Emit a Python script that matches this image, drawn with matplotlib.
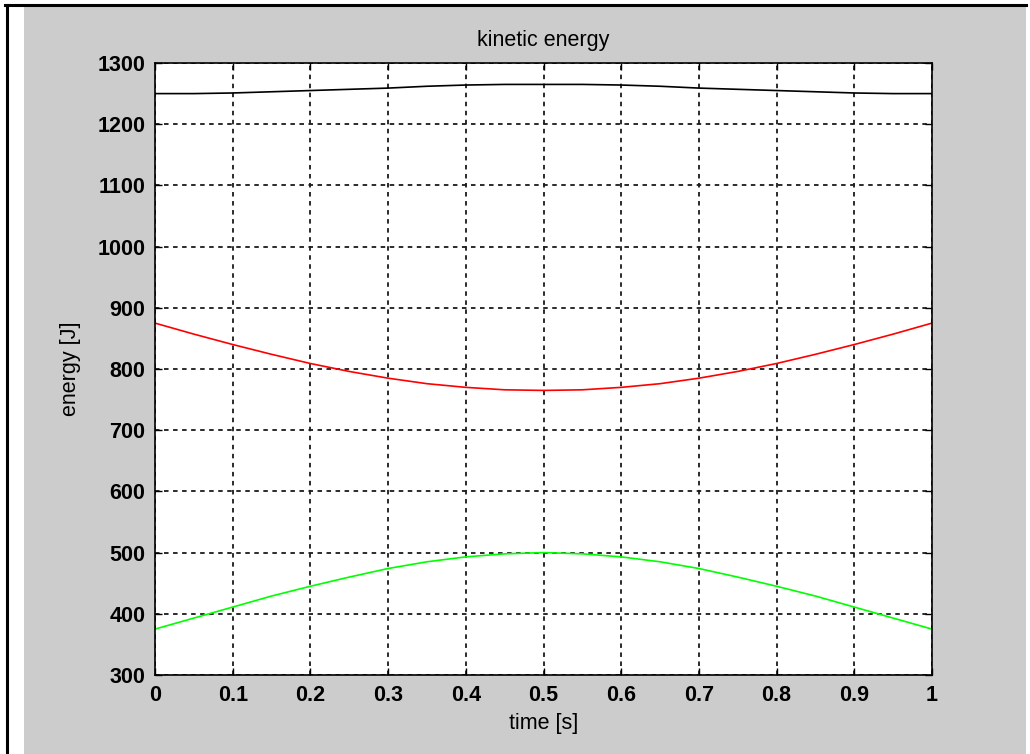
import matplotlib
matplotlib.use("Agg")
import matplotlib.pyplot as plt
from matplotlib.patches import Rectangle
from matplotlib.lines import Line2D

# data (time step 0.05 s)
time_s = [0.0, 0.05, 0.1, 0.15, 0.2, 0.25, 0.3, 0.35, 0.4, 0.45, 0.5,
          0.55, 0.6, 0.65, 0.7, 0.75, 0.8, 0.85, 0.9, 0.95, 1.0]
ek_total = [1250, 1250, 1251, 1253, 1255, 1257, 1259, 1262, 1264, 1265, 1265,
            1265, 1264, 1262, 1259, 1257, 1255, 1253, 1251, 1250, 1250]
ek_red = [875, 857, 840, 824, 809, 796, 785, 776, 770, 766, 765,
          766, 770, 776, 785, 796, 809, 824, 840, 857, 875]
ek_green = [375, 393, 411, 429, 445, 460, 474, 485, 493, 498, 500,
            498, 493, 485, 474, 460, 445, 429, 411, 393, 375]

yticks = list(range(300, 1301, 100))
xticks = [0, 0.1, 0.2, 0.3, 0.4, 0.5, 0.6, 0.7, 0.8, 0.9, 1]
xticklabels = ["0", "0.1", "0.2", "0.3", "0.4", "0.5", "0.6", "0.7", "0.8", "0.9", "1"]

plt.rcParams["font.family"] = ["Liberation Sans", "DejaVu Sans"]

W, H = 1030, 754
fig = plt.figure(figsize=(W / 100, H / 100), dpi=100, facecolor="white")

# grey window area + black frame lines (pixel coords -> figure fraction)
fig.patches.append(Rectangle((24 / W, 0), (1026 - 24) / W, (H - 6) / H,
                             transform=fig.transFigure, facecolor="#cccccc",
                             edgecolor="none", zorder=-10))
fig.lines.append(Line2D([5 / W, 1026 / W], [(H - 5) / H, (H - 5) / H],
                        transform=fig.transFigure, color="black", lw=2.2, zorder=-5))
fig.lines.append(Line2D([7 / W, 7 / W], [0, (H - 5) / H],
                        transform=fig.transFigure, color="black", lw=2.2, zorder=-5))

ax = fig.add_axes([155 / W, (H - 675) / H, (932 - 155) / W, (675 - 63) / H])
ax.set_zorder(1)
ax.set_facecolor("white")

ax.plot(time_s, ek_total, color="black", lw=1.2)
ax.plot(time_s, ek_red, color="#ff0000", lw=1.2)
ax.plot(time_s, ek_green, color="#00ff00", lw=1.2)

ax.set_xlim(0, 1)
ax.set_ylim(300, 1300)
ax.set_xticks(xticks)
ax.set_xticklabels(xticklabels)
ax.set_yticks(yticks)
ax.grid(True, color="#1a1a1a", linestyle=(0, (2.5, 2.5)), linewidth=1.3)
ax.tick_params(direction="in", length=5, width=1, labelsize=15.5, pad=7,
               top=True, right=True)
for lab in ax.get_xticklabels() + ax.get_yticklabels():
    lab.set_fontweight("bold")
for sp in ax.spines.values():
    sp.set_linewidth(1.2)

ax.set_title("kinetic energy", fontsize=15.5, pad=12)
ax.set_xlabel("time [s]", fontsize=15.5, labelpad=5)
ax.set_ylabel("energy [J]", fontsize=15.5, labelpad=12)

fig.savefig("out.png", dpi=100, facecolor=fig.get_facecolor())
